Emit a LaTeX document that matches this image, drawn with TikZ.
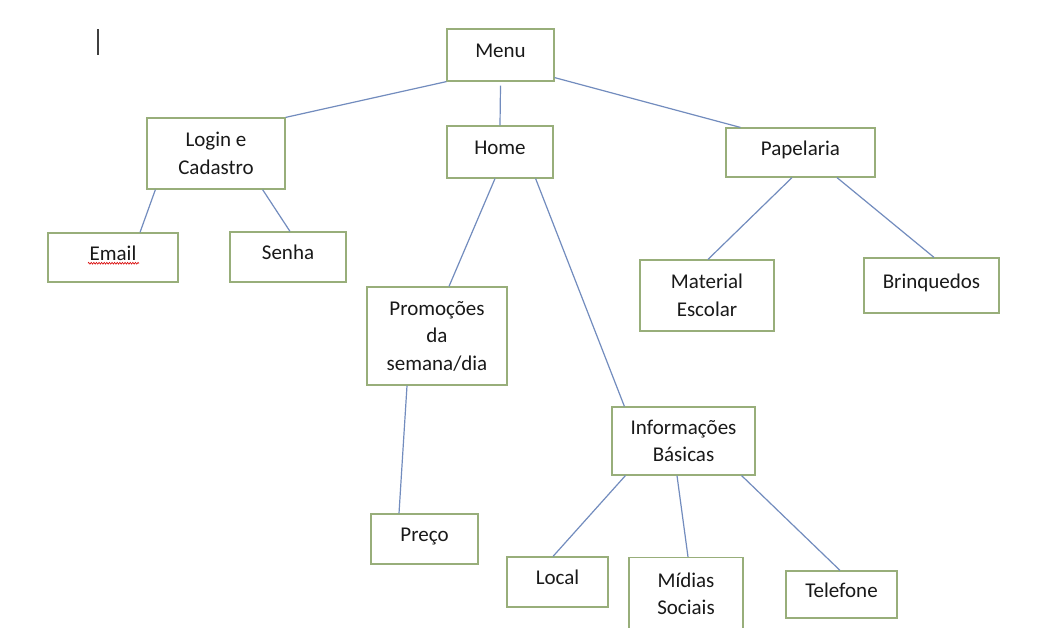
\documentclass[tikz,border=0pt]{standalone}
\usepackage{fontspec}
\setmainfont{Carlito}
\usetikzlibrary{decorations.pathmorphing}
\definecolor{boxgreen}{RGB}{152,174,122}
\definecolor{linkblue}{RGB}{114,140,190}
\tikzset{
    %Define style for boxes
    blk/.style={
           rectangle,
           draw=boxgreen, line width=1.2pt,
           fill=white,
           inner sep=2pt,
           align=center,
           text=black!90,
           font=\fontsize{21pt}{27.5pt}\selectfont},
    %single line boxes keep the text a bit high
    oneline/.style={
           text height=16pt,
           text depth=10.5pt},
    % Define line style
    link/.style={
           draw=linkblue,
           line width=1.2pt}
}
\begin{document}
\begin{tikzpicture}[x=1pt,y=-1pt]
\fill[white] (0,0) rectangle (1039,627);
\useasboundingbox (0,0) rectangle (1039,627);
 %nodes
\node[blk, oneline, minimum width=107pt, minimum height=52pt] (menu) at (500.5,55) {Menu};
\node[blk, minimum width=138pt, minimum height=71pt] (login) at (216,153.5) {Login e\\Cadastro};
\node[blk, oneline, minimum width=106pt, minimum height=52pt] (home) at (500,152) {Home};
\node[blk, oneline, minimum width=149pt, minimum height=49pt] (papelaria) at (800.5,152.5) {Papelaria};
\node[blk, oneline, minimum width=130pt, minimum height=49pt] (email) at (113,257.5) {Email};
\node[blk, oneline, minimum width=116pt, minimum height=50pt] (senha) at (288,257) {Senha};
\node[blk, minimum width=134pt, minimum height=71pt] (material) at (707,295.5) {Material\\Escolar};
\node[blk, oneline, minimum width=135pt, minimum height=55pt] (brinquedos) at (931.5,285.5) {Brinquedos};
\node[blk, minimum width=140pt, minimum height=98pt] (promo) at (437,336) {Promoções\\da\\semana/dia};
\node[blk, minimum width=143pt, minimum height=68pt] (info) at (683.5,441) {Informações\\Básicas};
\node[blk, oneline, minimum width=107pt, minimum height=50pt] (preco) at (424.5,539) {Preço};
\node[blk, oneline, minimum width=101pt, minimum height=50pt] (local) at (557.5,582) {Local};
\node[blk, minimum width=114pt, minimum height=73pt] (midias) at (686,594) {Mídias\\Sociais};
\node[blk, oneline, minimum width=111pt, minimum height=47pt] (telefone) at (841.5,594.5) {Telefone};

 %connections
\draw[link]
    (menu.south west) -- (login.north east)
    ([yshift=-4pt]menu.south) -- (home.north)
    ([yshift=4pt]menu.south east) -- ([xshift=15pt]papelaria.north west)
    ([xshift=9pt]login.south west) -- ([xshift=27pt]email.north)
    ([xshift=-23pt]login.south east) -- ([xshift=2pt]senha.north)
    ([xshift=-5pt]home.south) -- ([xshift=12pt]promo.north)
    ([xshift=-18pt]home.south east) -- ([xshift=13pt]info.north west)
    ([xshift=-8.5pt]papelaria.south) -- ([xshift=1pt]material.north)
    ([xshift=36.5pt]papelaria.south) -- ([xshift=2.5pt]brinquedos.north)
    ([xshift=-30pt]promo.south) -- ([xshift=-25.5pt]preco.north)
    ([xshift=14pt]info.south west) -- ([xshift=-4.5pt]local.north)
    ([xshift=-6.5pt]info.south) -- ([xshift=2pt]midias.north)
    ([xshift=-14pt]info.south east) -- ([xshift=-1.5pt]telefone.north);

 %spell check mark and text cursor
\draw[red!85!black, line width=0.6pt, decorate,
      decoration={zigzag, amplitude=0.9pt, segment length=2.6pt}]
    ([xshift=-25pt,yshift=-3pt]email.base) -- ([xshift=26pt,yshift=-3pt]email.base);
\draw[black!75, line width=1.5pt] (98,29) -- (98,55);
\end{tikzpicture}
\end{document}
